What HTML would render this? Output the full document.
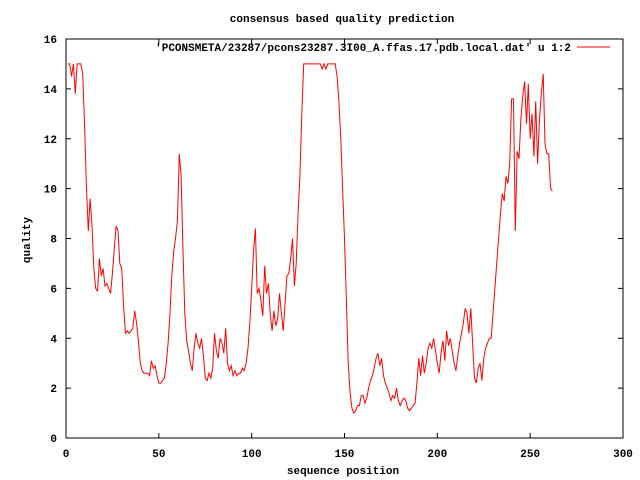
<!DOCTYPE html>
<html><head><meta charset="utf-8"><style>
html,body{margin:0;padding:0;background:#fff;}
svg{display:block;}
text{font-family:"Liberation Mono","DejaVu Sans Mono",monospace;font-size:11px;font-weight:bold;fill:#000;}
</style></head><body>
<svg id="chart" width="640" height="480" viewBox="0 0 640 480" xmlns="http://www.w3.org/2000/svg">
<rect x="0" y="0" width="640" height="480" fill="#fff"/>
<text x="342" y="22" text-anchor="middle">consensus based quality prediction</text>
<text x="343" y="474" text-anchor="middle">sequence position</text>
<text x="30" y="240" text-anchor="middle" transform="rotate(-90 30 240)">quality</text>
<g id="axes"></g>
<g id="series"></g>
<text x="571" y="51" text-anchor="end">'PCONSMETA/23287/pcons23287.3I00_A.ffas.17.pdb.local.dat' u 1:2</text>
<line x1="577" y1="47" x2="610" y2="47" stroke="#f00" stroke-width="1"/>
</svg>
<script>
const xTicks = [0, 50, 100, 150, 200, 250, 300];
const yTicks = [0, 2, 4, 6, 8, 10, 12, 14, 16];
const quality = [15,15,14.5,15,13.8,15,15,15,14.6,12.5,10.1,8.3,9.6,8.5,6.8,6.0,5.9,7.2,6.5,6.8,6.1,6.2,6.0,5.8,6.6,7.6,8.5,8.3,7.0,6.8,5.3,4.2,4.3,4.2,4.3,4.4,5.1,4.6,3.9,3.0,2.7,2.6,2.6,2.6,2.5,3.1,2.8,2.9,2.5,2.2,2.2,2.3,2.4,3.0,3.8,5.0,6.5,7.5,8.0,8.7,11.4,10.5,7.5,5.0,3.9,3.5,3.0,2.7,3.6,4.2,3.8,3.6,4.0,3.3,2.4,2.3,2.6,2.4,2.8,4.2,3.5,3.2,4.0,3.8,3.4,4.4,3.0,2.7,2.9,2.5,2.7,2.5,2.6,2.6,2.8,2.7,3.0,3.6,4.6,6.0,7.5,8.4,5.8,6.0,5.5,4.9,6.9,5.8,6.2,5.0,4.3,5.1,4.5,4.8,5.8,5.0,4.3,5.4,6.5,6.6,7.2,8.0,6.1,7.0,9.0,10.5,13.0,15,15,15,15,15,15,15,15,15,15,14.8,15,14.8,15,15,15,15,15,14.5,13.5,12.0,10.0,8.0,5.5,3.0,1.8,1.2,1.0,1.1,1.3,1.3,1.7,1.7,1.4,1.6,2.0,2.3,2.5,2.8,3.2,3.4,2.9,3.2,2.5,2.2,2.0,1.8,1.5,1.7,1.6,2.0,1.5,1.3,1.5,1.6,1.5,1.2,1.1,1.2,1.3,1.4,2.2,3.2,2.5,3.3,2.6,3.0,3.6,3.8,3.6,4.0,3.5,3.0,2.6,3.4,3.9,3.1,4.3,3.7,4.0,3.5,3.0,2.7,3.3,3.8,4.2,4.6,5.2,5.0,4.2,5.2,3.8,2.4,2.2,2.8,3.0,2.3,3.2,3.6,3.8,4.0,4.0,5.0,6.0,7.0,8.0,9.0,9.8,9.5,10.5,10.2,11.0,13.6,13.6,8.3,11.5,11.2,12.8,13.7,14.3,12.6,14.2,12.0,13.0,11.3,13.5,11.0,12.8,13.8,14.6,11.8,11.4,11.4,10.0,9.9];

const L = 66, R = 623, T = 39, B = 438;
const xMin = 0, xMax = 300, yMin = 0, yMax = 16;
function xs(v){ return L + (v - xMin) / (xMax - xMin) * (R - L); }
function ys(v){ return B - (v - yMin) / (yMax - yMin) * (B - T); }
const NS = "http://www.w3.org/2000/svg";
const axes = document.getElementById('axes');
const series = document.getElementById('series');

const frame = document.createElementNS(NS, 'rect');
frame.setAttribute('x', L); frame.setAttribute('y', T);
frame.setAttribute('width', R - L); frame.setAttribute('height', B - T);
frame.setAttribute('fill', 'none'); frame.setAttribute('stroke', '#000'); frame.setAttribute('stroke-width', '1');


axes.appendChild(frame);

xTicks.forEach(function(t){
  const x = xs(t);
  [[B, B - 5], [T, T + 5]].forEach(function(p){
    const ln = document.createElementNS(NS, 'line');
    ln.setAttribute('x1', x); ln.setAttribute('x2', x);
    ln.setAttribute('y1', p[0]); ln.setAttribute('y2', p[1]);
    ln.setAttribute('stroke', '#000');
    
    
    axes.appendChild(ln);
  });
  const tx = document.createElementNS(NS, 'text');
  tx.setAttribute('x', x); tx.setAttribute('y', 457);
  tx.setAttribute('text-anchor', 'middle');
  tx.textContent = t;
  
  
  axes.appendChild(tx);
});

yTicks.forEach(function(t){
  const y = ys(t);
  [[L, L + 5], [R, R - 5]].forEach(function(p){
    const ln = document.createElementNS(NS, 'line');
    ln.setAttribute('x1', p[0]); ln.setAttribute('x2', p[1]);
    ln.setAttribute('y1', y); ln.setAttribute('y2', y);
    ln.setAttribute('stroke', '#000');
    
    
    axes.appendChild(ln);
  });
  const tx = document.createElementNS(NS, 'text');
  tx.setAttribute('x', 57); tx.setAttribute('y', y + 4);
  tx.setAttribute('text-anchor', 'end');
  tx.textContent = t;
  
  
  axes.appendChild(tx);
});

const pts = quality.map(function(v, i){ return xs(i + 1).toFixed(1) + ',' + ys(v).toFixed(1); }).join(' ');
const pl = document.createElementNS(NS, 'polyline');
pl.setAttribute('points', pts);
pl.setAttribute('fill', 'none');
pl.setAttribute('stroke', '#f00');
pl.setAttribute('stroke-width', '1');


series.appendChild(pl);
</script>
</body></html>
